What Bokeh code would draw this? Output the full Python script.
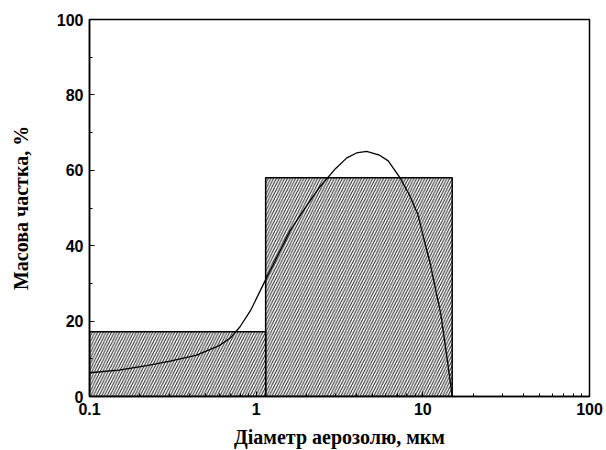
from bokeh.plotting import figure
from bokeh.models import FixedTicker, Range1d
from bokeh.embed import file_html
from bokeh.resources import INLINE

# Histogram bins (diameter, um) and mass fraction (%)
bin_left = [0.1, 1.14]
bin_right = [1.14, 15.0]
bin_height = [17.2, 58.0]

# Fitted distribution curve
curve_x = [0.1, 0.15, 0.22, 0.3, 0.44, 0.6, 0.7, 0.8, 0.93, 1.14, 1.6, 2.0, 2.4,
           3.0, 3.5, 4.0, 4.6, 5.5, 6.2, 7.3, 8.3, 9.3, 11.1, 12.8, 14.0, 15.0]
curve_y = [6.3, 7.0, 8.2, 9.3, 11.0, 13.5, 15.5, 18.5, 23.0, 31.0, 44.0, 50.5, 55.5,
           60.5, 63.3, 64.6, 65.0, 64.0, 62.5, 58.0, 53.5, 48.5, 35.0, 22.0, 10.0, 0.0]

x_ticks = [0.1, 1, 10, 100]
y_ticks = [0, 20, 40, 60, 80, 100]

p = figure(width=606, height=450, x_axis_type="log", output_backend="svg",
           toolbar_location=None,
           x_range=Range1d(0.1, 100), y_range=Range1d(0, 100),
           min_border_left=89, min_border_right=17, min_border_top=19, min_border_bottom=54)

p.quad(left=bin_left, right=bin_right, bottom=0, top=bin_height,
       fill_color=None, line_color="black", line_width=1.5,
       hatch_pattern="/", hatch_color="#222222", hatch_scale=5.5, hatch_weight=1)

p.line(curve_x, curve_y, line_color="black", line_width=1.3)

p.grid.visible = False
p.outline_line_color = "black"
p.outline_line_width = 1.5
p.background_fill_color = "white"
p.border_fill_color = "white"

p.xaxis.ticker = FixedTicker(ticks=x_ticks, minor_ticks=[0.2,0.3,0.4,0.5,0.6,0.7,0.8,0.9,
                                                        2,3,4,5,6,7,8,9,20,30,40,50,60,70,80,90])
p.xaxis.major_label_overrides = {0.1: "0.1", 1: "1", 10: "10", 100: "100"}
p.yaxis.ticker = FixedTicker(ticks=y_ticks, minor_ticks=[10, 30, 50, 70, 90])

for ax in (p.xaxis[0], p.yaxis[0]):
    ax.axis_line_color = "black"
    ax.axis_line_width = 1.5
    ax.major_tick_in = 5
    ax.major_tick_out = 0
    ax.minor_tick_in = 3
    ax.minor_tick_out = 0
    ax.major_tick_line_color = "black"
    ax.minor_tick_line_color = "black"
    ax.major_label_text_font = "Liberation Sans"
    ax.major_label_text_font_style = "bold"
    ax.major_label_text_font_size = "16px"
    ax.major_label_text_color = "black"
    ax.axis_label_text_font = "Liberation Serif"
    ax.axis_label_text_font_style = "bold"
    ax.axis_label_text_font_size = "20px"
    ax.axis_label_text_color = "black"
    ax.major_label_standoff = 6

p.xaxis.axis_label = "Діаметр аерозолю, мкм"
p.yaxis.axis_label = "Масова частка, %"
p.xaxis.axis_label_standoff = 8
p.yaxis.axis_label_standoff = 22

open("out.html", "w").write(file_html(p, INLINE))
